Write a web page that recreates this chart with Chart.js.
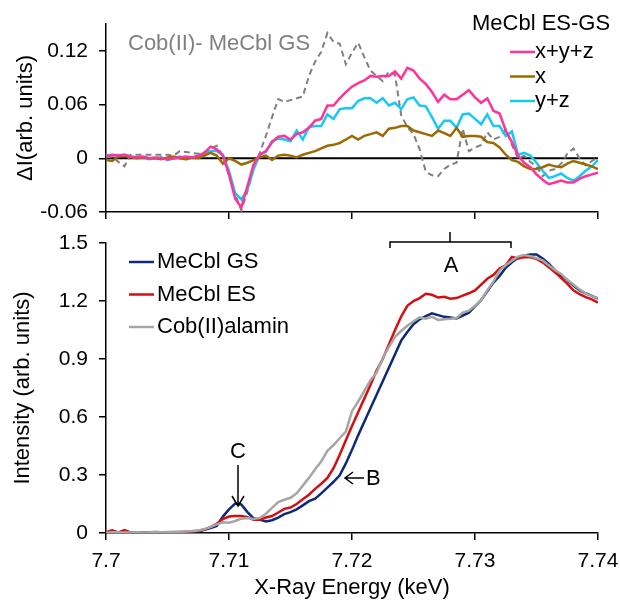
<!DOCTYPE html>
<html>
<head>
<meta charset="utf-8">
<script src="https://cdn.jsdelivr.net/npm/chart.js@4.4.0/dist/chart.umd.min.js"></script>
<style>
  body { margin: 0; background: #fff; }
  #wrap { position: relative; width: 620px; height: 601px; }
  canvas { position: absolute; left: 0; top: 0; }
</style>
</head>
<body>
<div id="wrap">
  <canvas id="bottomChart" width="620" height="601"></canvas>
  <canvas id="topChart" width="620" height="601"></canvas>
</div>
<script>
// energy grid (keV)
const energy = [
  7.7000, 7.7005, 7.7010, 7.7015, 7.7020, 7.7025, 7.7030, 7.7035, 7.7040, 7.7045,
  7.7050, 7.7055, 7.7060, 7.7065, 7.7070, 7.7075, 7.7080, 7.7085, 7.7090, 7.7095,
  7.7100, 7.7105, 7.7110, 7.7115, 7.7120, 7.7125, 7.7130, 7.7135, 7.7140, 7.7145,
  7.7150, 7.7155, 7.7160, 7.7165, 7.7170, 7.7175, 7.7180, 7.7185, 7.7190, 7.7195,
  7.7200, 7.7205, 7.7210, 7.7215, 7.7220, 7.7225, 7.7230, 7.7235, 7.7240, 7.7245,
  7.7250, 7.7255, 7.7260, 7.7265, 7.7270, 7.7275, 7.7280, 7.7285, 7.7290, 7.7295,
  7.7300, 7.7305, 7.7310, 7.7315, 7.7320, 7.7325, 7.7330, 7.7335, 7.7340, 7.7345,
  7.7350, 7.7355, 7.7360, 7.7365, 7.7370, 7.7375, 7.7380, 7.7385, 7.7390, 7.7395,
  7.7400
];

// top panel: difference spectra
const diffXYZ = [
  0.002, 0.004, 0.003, 0.004, 0.002, 0.001, 0.002, 0.000, 0.001, 0.000,
  -0.001, 0.000, 0.001, 0.002, 0.001, 0.003, 0.006, 0.013, 0.010, 0.003,
  -0.018, -0.045, -0.055, -0.031, -0.007, 0.004, 0.008, 0.018, 0.024, 0.025,
  0.021, 0.027, 0.029, 0.034, 0.042, 0.044, 0.059, 0.059, 0.067, 0.074,
  0.080, 0.084, 0.087, 0.092, 0.091, 0.092, 0.092, 0.097, 0.089, 0.101,
  0.098, 0.089, 0.083, 0.074, 0.063, 0.071, 0.066, 0.066, 0.071, 0.076,
  0.068, 0.062, 0.067, 0.053, 0.050, 0.031, 0.018, 0.003, -0.005, -0.010,
  -0.018, -0.024, -0.029, -0.027, -0.025, -0.027, -0.027, -0.023, -0.020, -0.018,
  -0.016
];
const diffX = [
  -0.002, -0.003, 0.002, 0.003, 0.001, 0.000, 0.001, 0.000, 0.000, -0.001,
  0.001, 0.002, 0.000, -0.001, 0.001, 0.000, 0.003, 0.006, 0.003, -0.006,
  0.000, -0.003, -0.007, -0.005, -0.002, 0.001, 0.003, -0.002, 0.003, 0.004,
  0.003, 0.001, 0.004, 0.006, 0.008, 0.011, 0.014, 0.015, 0.017, 0.021,
  0.025, 0.021, 0.025, 0.027, 0.029, 0.025, 0.033, 0.034, 0.036, 0.036,
  0.031, 0.029, 0.027, 0.025, 0.031, 0.028, 0.025, 0.034, 0.024, 0.025,
  0.025, 0.024, 0.018, 0.017, 0.012, 0.004, -0.002, -0.004, -0.009, -0.012,
  -0.012, -0.010, -0.007, -0.009, -0.010, -0.006, -0.003, -0.005, -0.007, -0.009,
  -0.012
];
const diffYZ = [
  0.004, 0.003, 0.003, 0.004, 0.002, 0.001, 0.001, -0.001, 0.000, 0.001,
  -0.002, 0.000, 0.002, -0.001, 0.001, 0.002, 0.004, 0.008, 0.008, 0.004,
  -0.014, -0.039, -0.046, -0.035, -0.012, 0.004, 0.007, 0.019, 0.022, 0.021,
  0.019, 0.031, 0.021, 0.035, 0.036, 0.036, 0.049, 0.044, 0.055, 0.056,
  0.056, 0.064, 0.067, 0.067, 0.062, 0.067, 0.059, 0.062, 0.055, 0.066,
  0.068, 0.059, 0.058, 0.046, 0.033, 0.042, 0.042, 0.034, 0.049, 0.050,
  0.044, 0.038, 0.049, 0.036, 0.036, 0.025, 0.030, 0.004, 0.006, 0.003,
  -0.005, -0.014, -0.022, -0.020, -0.017, -0.022, -0.025, -0.020, -0.014, -0.009,
  -0.002
];
const diffCob = [
  0.001, 0.002, -0.004, -0.009, 0.004, 0.004, 0.004, 0.004, 0.004, 0.004,
  0.004, 0.003, 0.008, 0.007, 0.006, 0.005, 0.007, 0.011, 0.014, 0.003,
  -0.020, -0.040, -0.058, -0.037, -0.012, 0.006, 0.025, 0.046, 0.066, 0.063,
  0.065, 0.067, 0.069, 0.092, 0.108, 0.119, 0.140, 0.130, 0.128, 0.105,
  0.118, 0.129, 0.113, 0.098, 0.092, 0.086, 0.097, 0.093, 0.048, 0.035,
  0.027, 0.010, -0.015, -0.019, -0.020, -0.012, -0.007, -0.005, 0.033, 0.008,
  0.012, 0.015, 0.029, 0.021, 0.024, 0.032, 0.015, 0.000, 0.003, -0.004,
  -0.009, -0.020, -0.014, -0.012, -0.006, 0.005, 0.011, 0.000, -0.008, -0.003,
  0.001
];

// bottom panel: spectra
const mecblGS = [
  0.003, 0.002, 0.003, 0.003, 0.002, 0.002, 0.002, 0.003, 0.003, 0.004,
  0.003, 0.003, 0.004, 0.005, 0.006, 0.008, 0.017, 0.026, 0.036, 0.085,
  0.122, 0.152, 0.148, 0.108, 0.076, 0.069, 0.060, 0.066, 0.080, 0.098,
  0.108, 0.122, 0.143, 0.165, 0.178, 0.205, 0.235, 0.265, 0.298, 0.360,
  0.430, 0.505, 0.575, 0.645, 0.715, 0.785, 0.855, 0.925, 0.995, 1.040,
  1.080, 1.105, 1.122, 1.136, 1.127, 1.118, 1.115, 1.110, 1.125, 1.140,
  1.172, 1.205, 1.250, 1.295, 1.330, 1.372, 1.400, 1.424, 1.436, 1.440,
  1.441, 1.420, 1.393, 1.360, 1.332, 1.308, 1.280, 1.255, 1.240, 1.226,
  1.212
];
const mecblES = [
  0.005, 0.014, 0.003, 0.015, 0.003, 0.002, 0.002, 0.002, 0.003, 0.004,
  0.003, 0.004, 0.005, 0.006, 0.008, 0.012, 0.018, 0.030, 0.048, 0.072,
  0.085, 0.088, 0.088, 0.082, 0.068, 0.068, 0.080, 0.088, 0.106, 0.125,
  0.132, 0.150, 0.175, 0.198, 0.228, 0.255, 0.285, 0.335, 0.405, 0.480,
  0.553, 0.625, 0.695, 0.765, 0.840, 0.900, 0.975, 1.050, 1.120, 1.175,
  1.200, 1.215, 1.237, 1.232, 1.218, 1.222, 1.212, 1.215, 1.228, 1.240,
  1.255, 1.285, 1.315, 1.335, 1.368, 1.385, 1.428, 1.420, 1.428, 1.426,
  1.418, 1.400, 1.375, 1.348, 1.320, 1.290, 1.255, 1.235, 1.220, 1.208,
  1.192
];
const cobalamin = [
  0.003, 0.004, 0.004, 0.003, 0.003, 0.004, 0.003, 0.004, 0.006, 0.004,
  0.005, 0.006, 0.007, 0.008, 0.010, 0.013, 0.020, 0.030, 0.045, 0.055,
  0.053, 0.062, 0.074, 0.078, 0.072, 0.078, 0.100, 0.130, 0.160, 0.172,
  0.182, 0.205, 0.245, 0.285, 0.330, 0.370, 0.425, 0.455, 0.490, 0.525,
  0.630, 0.680, 0.735, 0.790, 0.830, 0.905, 0.962, 1.015, 1.045, 1.072,
  1.095, 1.115, 1.108, 1.118, 1.102, 1.105, 1.108, 1.112, 1.140, 1.150,
  1.175, 1.205, 1.255, 1.300, 1.358, 1.385, 1.408, 1.430, 1.438, 1.432,
  1.422, 1.410, 1.385, 1.360, 1.340, 1.310, 1.285, 1.260, 1.240, 1.225,
  1.215
];

// tick values
const xTicks = [7.70, 7.71, 7.72, 7.73, 7.74];
const topTicks = [-0.06, 0, 0.06, 0.12];
const bottomTicks = [0, 0.3, 0.6, 0.9, 1.2, 1.5];

const FONT = "'Liberation Sans', Arial, sans-serif";
Chart.defaults.font.family = FONT;
Chart.defaults.font.size = 21;
Chart.defaults.color = '#000';

const pts = vals => energy.map((e, i) => ({ x: e, y: vals[i] }));
const fmt = v => String(Math.round(v * 100) / 100);
const setTicks = arr => scale => { scale.ticks = arr.map(v => ({ value: v })); };
// fixed axis box sizes so both panels line up
const fixHeight = h => s => { s.height = h; s.paddingLeft = 0; s.paddingRight = 0; };
const fixWidth = w => s => { s.width = w; s.paddingTop = 0; s.paddingBottom = 0; };

const axisGrid = { drawOnChartArea: false, drawTicks: true, tickLength: 7, color: '#000', lineWidth: 1.5 };
const axisBorder = { display: true, color: '#000', width: 1.5 };

// top chart: zero line + legend
const topDecor = {
  id: 'topDecor',
  beforeDatasetsDraw(chart) {
    const { ctx, chartArea, scales } = chart;
    const y0 = scales.y.getPixelForValue(0);
    ctx.save();
    ctx.strokeStyle = '#000';
    ctx.lineWidth = 2;
    ctx.beginPath();
    ctx.moveTo(chartArea.left, y0);
    ctx.lineTo(chartArea.right, y0);
    ctx.stroke();
    ctx.restore();
  },
  afterDraw(chart) {
    const ctx = chart.ctx;
    const ds = chart.data.datasets;
    ctx.save();
    ctx.font = '22px ' + FONT;
    ctx.textBaseline = 'middle';
    ctx.fillStyle = '#808080';
    ctx.fillText('Cob(II)- MeCbl GS', 128, 44);
    ctx.fillStyle = '#000';
    ctx.fillText('MeCbl ES-GS', 472, 24);
    [0, 1, 2].forEach((k, i) => {
      const y = 52 + i * 24.5;
      ctx.strokeStyle = ds[k].borderColor;
      ctx.lineWidth = 2.5;
      ctx.beginPath();
      ctx.moveTo(510, y);
      ctx.lineTo(535, y);
      ctx.stroke();
      ctx.fillStyle = '#000';
      ctx.fillText(ds[k].label, 535, y);
    });
    ctx.restore();
  }
};

new Chart(document.getElementById('topChart'), {
  type: 'line',
  data: {
    datasets: [
      { label: 'x+y+z', data: pts(diffXYZ), borderColor: '#ff3399', borderWidth: 2.5, pointRadius: 0 },
      { label: 'x', data: pts(diffX), borderColor: '#9c6a00', borderWidth: 2.5, pointRadius: 0 },
      { label: 'y+z', data: pts(diffYZ), borderColor: '#17c8f5', borderWidth: 2.5, pointRadius: 0 },
      { label: 'Cob(II)- MeCbl GS', data: pts(diffCob), borderColor: '#808080', borderWidth: 2, borderDash: [6, 4], pointRadius: 0 }
    ]
  },
  options: {
    responsive: false,
    animation: false,
    devicePixelRatio: 1,
    layout: { padding: { left: 0, right: 22, top: 24, bottom: 379 } },
    plugins: { legend: { display: false }, tooltip: { enabled: false } },
    scales: {
      x: {
        type: 'linear', min: 7.7, max: 7.74,
        afterBuildTicks: setTicks(xTicks),
        afterFit: fixHeight(10),
        ticks: { display: false },
        grid: axisGrid, border: axisBorder
      },
      y: {
        min: -0.06, max: 0.15,
        afterBuildTicks: setTicks(topTicks),
        afterFit: fixWidth(106),
        ticks: { padding: 11, callback: fmt },
        grid: axisGrid, border: axisBorder,
        title: { display: true, text: 'ΔI(arb. units)', font: { size: 22 }, padding: { top: 13, bottom: 0 } }
      }
    }
  },
  plugins: [topDecor]
});

// bottom chart: legend + annotations
const bottomDecor = {
  id: 'bottomDecor',
  afterDraw(chart) {
    const ctx = chart.ctx;
    const ds = chart.data.datasets;
    ctx.save();
    ctx.font = '22px ' + FONT;
    ctx.textBaseline = 'middle';
    [2, 1, 0].forEach((k, i) => {
      const y = 262 + i * 32.5;
      ctx.strokeStyle = ds[k].borderColor;
      ctx.lineWidth = 2.5;
      ctx.beginPath();
      ctx.moveTo(129, y);
      ctx.lineTo(154, y);
      ctx.stroke();
      ctx.fillStyle = '#000';
      ctx.fillText(ds[k].label, 157, y);
    });
    // A bracket
    ctx.strokeStyle = '#000';
    ctx.lineWidth = 1.5;
    ctx.beginPath();
    ctx.moveTo(390, 248); ctx.lineTo(390, 242); ctx.lineTo(511, 242); ctx.lineTo(511, 248);
    ctx.moveTo(450, 242); ctx.lineTo(450, 232);
    ctx.stroke();
    ctx.textAlign = 'center';
    ctx.fillText('A', 451, 266);
    // C arrow
    ctx.fillText('C', 238, 452);
    ctx.beginPath();
    ctx.moveTo(238, 465); ctx.lineTo(238, 506);
    ctx.moveTo(232, 496); ctx.lineTo(238, 506); ctx.lineTo(244, 496);
    ctx.stroke();
    // B arrow
    ctx.beginPath();
    ctx.moveTo(364, 478); ctx.lineTo(345, 478);
    ctx.moveTo(353, 472); ctx.lineTo(345, 478); ctx.lineTo(353, 484);
    ctx.stroke();
    ctx.textAlign = 'left';
    ctx.fillText('B', 366, 479);
    ctx.restore();
  }
};

new Chart(document.getElementById('bottomChart'), {
  type: 'line',
  data: {
    datasets: [
      { label: 'Cob(II)alamin', data: pts(cobalamin), borderColor: '#a6a6a6', borderWidth: 2.5, pointRadius: 0 },
      { label: 'MeCbl ES', data: pts(mecblES), borderColor: '#d40f0f', borderWidth: 2.5, pointRadius: 0 },
      { label: 'MeCbl GS', data: pts(mecblGS), borderColor: '#0d2a78', borderWidth: 2.5, pointRadius: 0 }
    ]
  },
  options: {
    responsive: false,
    animation: false,
    devicePixelRatio: 1,
    layout: { padding: { left: 0, right: 22, top: 243, bottom: 0 } },
    plugins: { legend: { display: false }, tooltip: { enabled: false } },
    scales: {
      x: {
        type: 'linear', min: 7.7, max: 7.74,
        afterBuildTicks: setTicks(xTicks),
        afterFit: fixHeight(68),
        ticks: { padding: 9, callback: fmt, maxRotation: 0 },
        grid: axisGrid, border: axisBorder,
        title: { display: true, text: 'X-Ray Energy (keV)', font: { size: 22 }, padding: { top: 0, bottom: 0 } }
      },
      y: {
        min: 0, max: 1.5,
        afterBuildTicks: setTicks(bottomTicks),
        afterFit: fixWidth(106),
        ticks: { padding: 11, callback: fmt },
        grid: axisGrid, border: axisBorder,
        title: { display: true, text: 'Intensity (arb. units)', font: { size: 22 }, padding: { top: 10, bottom: 0 } }
      }
    }
  },
  plugins: [bottomDecor]
});
</script>
</body>
</html>
